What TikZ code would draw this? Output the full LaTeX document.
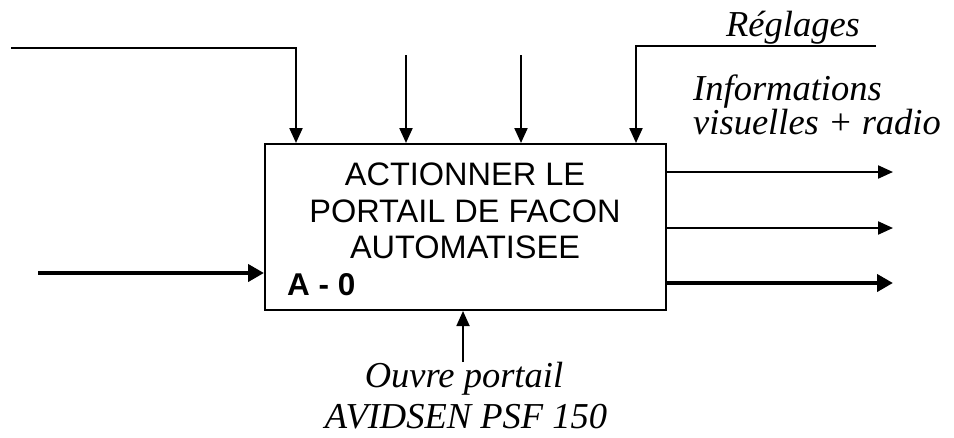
\documentclass[tikz,border=0pt]{standalone}
\usepackage{fontspec}
\setmainfont{Liberation Serif}
\setsansfont{Liberation Sans}
\usetikzlibrary{arrows.meta}
\tikzset{
  box/.style={draw, line width=2.8pt, minimum width=401pt, minimum height=166pt, inner sep=0pt},
  arr/.style={line width=2.2pt, -{Triangle[length=15pt,width=13pt]}},
  thickarr/.style={line width=4.5pt, -{Triangle[length=16pt,width=17pt]}},
  lbl/.style={font=\fontsize{36.5}{38}\selectfont\itshape, inner sep=0pt},
  boxtxt/.style={font=\sffamily\fontsize{32.5}{36}\selectfont, inner sep=0pt, anchor=base},
}
\begin{document}
\begin{tikzpicture}[x=1pt,y=-1pt]
\useasboundingbox (0,0) rectangle (954,437);
% main box
\node[box] (b) at (465.5,227) {};
\node[boxtxt] (l1) at (465,185) {ACTIONNER LE};
\node[boxtxt] (l2) at (465,222) {PORTAIL DE FACON};
\node[boxtxt] (l3) at (465,258) {AUTOMATISEE};
\node[boxtxt, anchor=base west, font=\sffamily\bfseries\fontsize{31.5}{36}\selectfont] (id) at (287,295) {A - 0};
% top (control) arrows
\coordinate (c1s) at (11,48);
\coordinate (c1e) at (296,143);
\coordinate (c2s) at (406,55);
\coordinate (c2e) at (406,143);
\coordinate (c3s) at (521,55);
\coordinate (c3e) at (521,143);
\coordinate (c4s) at (876,46);
\coordinate (c4e) at (636,143);
\draw[arr] (c1s) -| (c1e);
\draw[arr] (c2s) -- (c2e);
\draw[arr] (c3s) -- (c3e);
\draw[arr] (c4s) -| (c4e);
% input
\coordinate (ins) at (38,273);
\coordinate (ine) at (264,273);
\draw[thickarr] (ins) -- (ine);
% outputs
\coordinate (o1s) at (667,172);
\coordinate (o1e) at (893,172);
\coordinate (o2s) at (667,228);
\coordinate (o2e) at (893,228);
\coordinate (o3s) at (667,283);
\coordinate (o3e) at (893,283);
\draw[arr] (o1s) -- (o1e);
\draw[arr] (o2s) -- (o2e);
\draw[thickarr] (o3s) -- (o3e);
% mechanism
\coordinate (ms) at (463,362);
\coordinate (me) at (463,311);
\draw[arr, line width=1.8pt] (ms) -- (me);
% labels
\node[lbl, anchor=base] (reg) at (793,36) {Réglages};
\node[lbl, anchor=base west] (inf1) at (693,100) {Informations};
\node[lbl, anchor=base west] (inf2) at (693,134) {visuelles + radio};
\node[lbl, anchor=base] (ouv1) at (464,387) {Ouvre portail};
\node[lbl, anchor=base] (ouv2) at (466,428) {AVIDSEN PSF 150};
\end{tikzpicture}
\end{document}
